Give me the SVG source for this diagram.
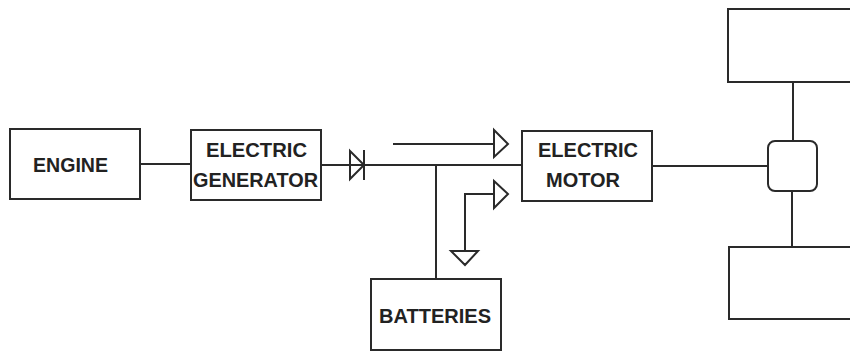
<svg xmlns="http://www.w3.org/2000/svg" width="850" height="352" viewBox="0 0 850 352">
<style>
.b{fill:#fff;stroke:#2a2a2a;stroke-width:2}
.l{fill:none;stroke:#2a2a2a;stroke-width:2}
.t{font-family:"Liberation Sans",Arial,sans-serif;font-weight:bold;font-size:21px;fill:#222}
</style>
<rect width="850" height="352" fill="#fff"/>
<g id="connectors">
<path class="l" d="M140 164H191M321 165H522"/>
<path class="l" d="M436 165V279"/>
<path class="l" d="M652 166H768"/>
<path class="l" d="M793 82V141M792 190V247"/>
<path class="l" d="M393 144H494"/>
<path class="l" d="M494 194H465V251"/>
<path class="l" d="M494 130L508 144L494 157ZM494 181L508 194L494 208ZM451 251H478L465 265Z"/>
<path class="l" d="M350 151L364 165L350 179ZM364 150V180"/>
</g>
<g id="engine"><rect class="b" x="10" y="129" width="130" height="70"/><text class="t" x="33" y="172" textLength="75" lengthAdjust="spacingAndGlyphs">ENGINE</text></g>
<g id="generator"><rect class="b" x="191" y="130" width="130" height="70"/><text class="t" x="206" y="157" textLength="101" lengthAdjust="spacingAndGlyphs">ELECTRIC</text><text class="t" x="193" y="187" textLength="125" lengthAdjust="spacingAndGlyphs">GENERATOR</text></g>
<g id="motor"><rect class="b" x="522" y="131" width="130" height="70"/><text class="t" x="538" y="157" textLength="100" lengthAdjust="spacingAndGlyphs">ELECTRIC</text><text class="t" x="546" y="187" textLength="74" lengthAdjust="spacingAndGlyphs">MOTOR</text></g>
<g id="batteries"><rect class="b" x="371" y="279" width="130" height="71"/><text class="t" x="379" y="323" textLength="112" lengthAdjust="spacingAndGlyphs">BATTERIES</text></g>
<g id="wheel-top"><path class="b" d="M851 9H728V82H851"/></g>
<g id="wheel-bottom"><path class="b" d="M851 247H729V319H851"/></g>
<g id="differential"><rect class="b" x="768" y="141" width="49" height="50" rx="7"/></g>
</svg>
